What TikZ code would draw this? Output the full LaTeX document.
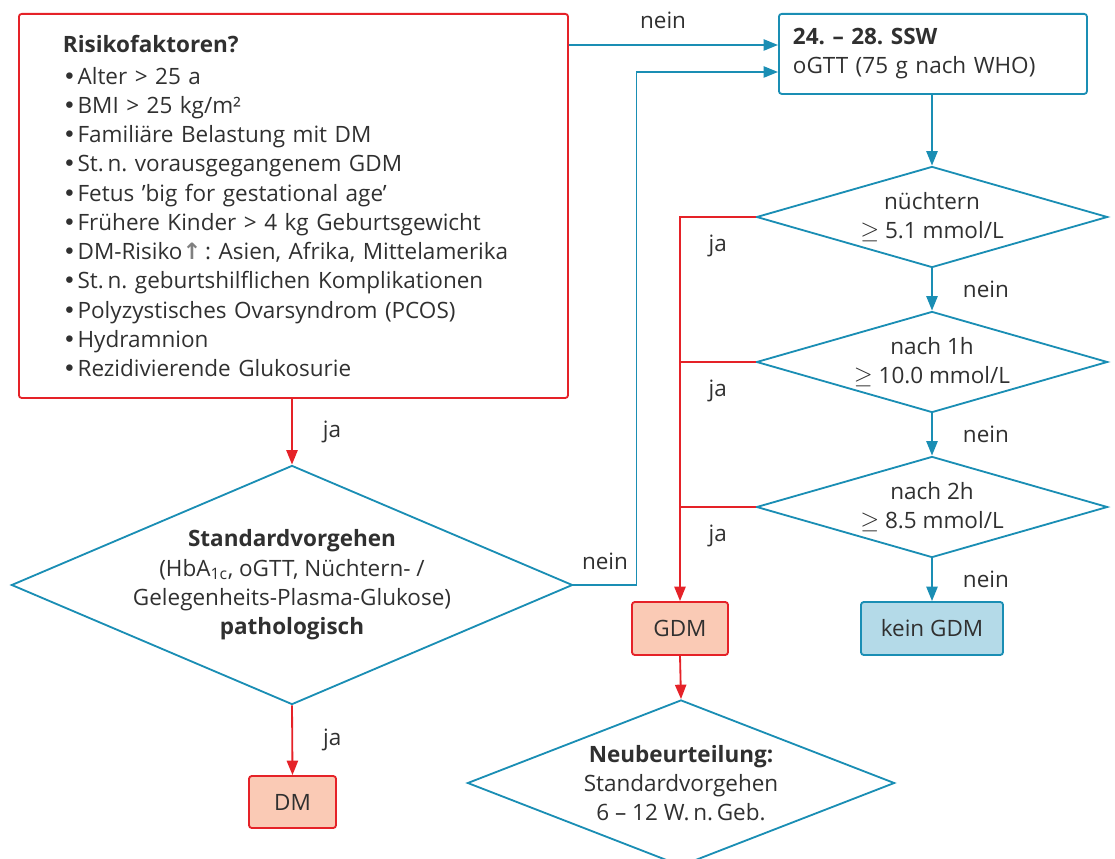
\documentclass[tikz,border=0pt]{standalone}
\usepackage{fontspec}
\setmainfont{Open Sans}
\newfontfamily\arrowfont{DejaVu Sans}
\usetikzlibrary{shapes.geometric,arrows.meta}

\definecolor{flowblue}{HTML}{1A8EB4}
\definecolor{flowred}{HTML}{E52228}
\definecolor{gdmfill}{HTML}{FACAB5}
\definecolor{okfill}{HTML}{B4DAE8}
\definecolor{textgray}{HTML}{303030}

\def\riskitem#1{{\arrowfont•}\hspace{1pt}#1}

\begin{document}
\frenchspacing
\begin{tikzpicture}[x=0.025cm,y=-0.025cm,line width=1.3pt,text=textgray,
	font=\fontsize{16}{20.8}\selectfont]
	\tikzstyle{box}=[rectangle,rounded corners=2pt,inner sep=0pt]
	\tikzstyle{red box}=[box,draw=flowred,fill=gdmfill]
	\tikzstyle{blue box}=[box,draw=flowblue]
	\tikzstyle{check}=[diamond,draw=flowblue,inner sep=0pt,align=center]
	\tikzstyle{test}=[check,aspect=3.475,minimum width=8.775cm,minimum height=2.525cm]
	\tikzstyle{blue arrow}=[draw=flowblue,-{Triangle[length=0.36cm,width=0.28cm]}]
	\tikzstyle{red arrow}=[draw=flowred,-{Triangle[length=0.36cm,width=0.28cm]}]
	\tikzstyle{red line}=[draw=flowred]
	\tikzstyle{annot}=[inner sep=0pt]
	\useasboundingbox (0,0) rectangle (1115,859);

	% Draw the risk factor box
	\node[box,draw=flowred,anchor=north west,minimum width=13.725cm,minimum height=9.6cm,
		text width=11.525cm,inner xsep=1.1cm,align=left] (risk) at (18,13) {%
		\textbf{Risikofaktoren?}\\[2pt]
		\riskitem{Alter > 25 a}\\
		\riskitem{BMI > 25 kg/m²}\\
		\riskitem{Familiäre Belastung mit DM}\\
		\riskitem{St.\,n. vorausgegangenem GDM}\\
		\riskitem{Fetus ’big for gestational age’}\\
		\riskitem{Frühere Kinder > 4 kg Geburtsgewicht}\\
		\riskitem{DM-Risiko{\arrowfont\bfseries\color{gray}↑}\,: Asien, Afrika, Mittelamerika}\\
		\riskitem{St.\,n. geburtshilflichen Komplikationen}\\
		\riskitem{Polyzystisches Ovarsyndrom (PCOS)}\\
		\riskitem{Hydramnion}\\
		\riskitem{Rezidivierende Glukosurie}};

	% Draw the standard procedure check
	\node[check,aspect=2.35,inner sep=-8pt,minimum width=14.025cm,minimum height=5.975cm] (std) at (292,585)
		{\textbf{Standardvorgehen}\\(HbA\textsubscript{1c}, oGTT, Nüchtern- /\\
		Gelegenheits-Plasma-Glukose)\\\textbf{pathologisch}};
	\node[red box,minimum width=2.175cm,minimum height=1.3cm] (dm) at (292.5,802) {DM};

	% Draw the oGTT box and the three tests
	\node[blue box,anchor=north west,minimum width=7.7cm,minimum height=2cm,
		text width=7cm,inner xsep=0.35cm,align=left] (ogtt) at (778,13)
		{\textbf{24. – 28. SSW}\\oGTT (75 g nach WHO)};
	\foreach \i/\y/\first/\second in {1/217/nüchtern/5.1,2/362/nach 1h/10.0,3/507/nach 2h/8.5}
	\node[test] (T-\i) at (932,\y) {\first\\$\geq$ \second\ mmol/L};

	% Draw the results
	\node[red box,minimum width=2.4cm,minimum height=1.325cm] (gdm) at (680,628.5) {GDM};
	\node[box,draw=flowblue,fill=okfill,minimum width=3.55cm,minimum height=1.325cm] (kein) at (932,628.5) {kein GDM};
	\node[check,aspect=2.57,minimum width=10.675cm,minimum height=4.15cm] (neu) at (681,783)
		{\textbf{Neubeurteilung:}\\Standardvorgehen\\6 – 12 W.\,n.\,Geb.};

	% Entry points on the oGTT box
	\coordinate (in1) at (ogtt.west |- 0,45);
	\coordinate (in2) at (ogtt.west |- 0,72);

	% Connect the left column
	\draw[red arrow] (risk.south -| std.north) -- node[annot,midway,right=0.75cm] {ja} (std.north);
	\draw[red arrow] (std.south) -- node[annot,midway,right=0.75cm] {ja} (dm.north);
	\draw[blue arrow] (risk.east |- in1) -- node[annot,pos=0.45,yshift=0.62cm] {nein} (in1);
	\draw[blue arrow] (std.east) -- ++(63,0) node[annot,midway,yshift=0.58cm] {nein} |- (in2);

	% Connect the oGTT box with the tests
	\draw[blue arrow] (ogtt.south -| T-1.north) -- (T-1.north);
	\draw[blue arrow] (T-1.south) -- node[annot,midway,right=0.75cm] {nein} (T-2.north);
	\draw[blue arrow] (T-2.south) -- node[annot,midway,right=0.75cm] {nein} (T-3.north);
	\draw[blue arrow] (T-3.south) -- node[annot,midway,right=0.75cm] {nein} (kein.north);

	% Connect the tests with GDM
	\draw[red arrow] (T-1.west) -| node[annot,pos=0.25,yshift=-0.72cm] {ja} (gdm.north);
	\foreach \i in {2,3}
	\draw[red line] (T-\i.west) -- node[annot,midway,yshift=-0.72cm] {ja} (T-\i.west -| gdm.north);
	\draw[red arrow] (gdm.south) -- (neu.north);

\end{tikzpicture}
\end{document}
